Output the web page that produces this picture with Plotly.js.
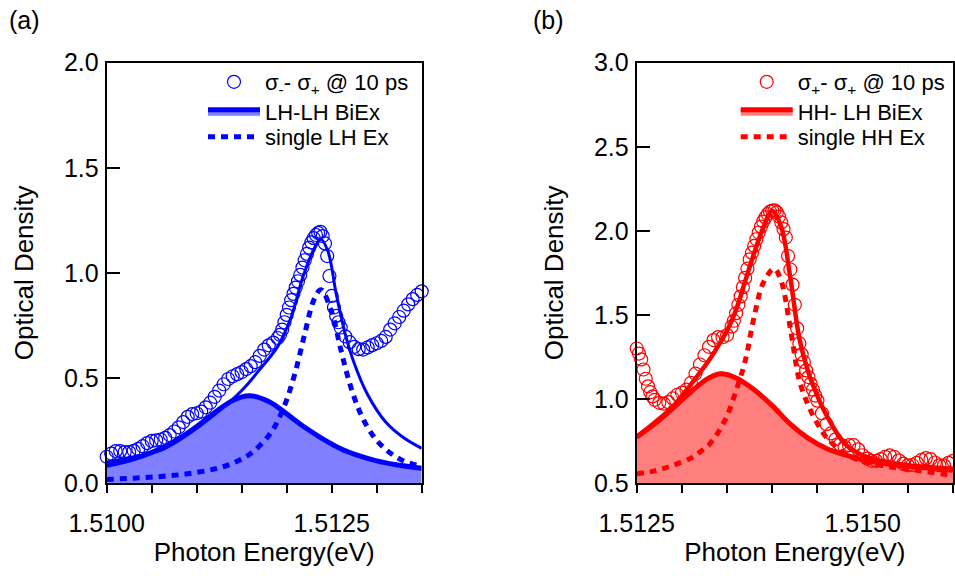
<!DOCTYPE html>
<html>
<head>
<meta charset="utf-8">
<script src="https://cdn.plot.ly/plotly-3.0.1.min.js"></script>
<style>
  html, body { margin: 0; padding: 0; background: #fff; }
  #chart { width: 955px; height: 576px; }
</style>
</head>
<body>
<div id="chart"></div>
<script>
// ---------- Panel (a): sigma- / sigma+ pump-probe at 10 ps, LH region ----------
const energyA = [
  1.51000, 1.51005, 1.51010, 1.51015, 1.51020, 1.51025, 1.51030, 1.51035, 1.51040, 1.51045,
  1.51050, 1.51055, 1.51060, 1.51065, 1.51070, 1.51075, 1.51080, 1.51085, 1.51090, 1.51095,
  1.51100, 1.51105, 1.51110, 1.51115, 1.51120, 1.51125, 1.51130, 1.51135, 1.51140, 1.51145,
  1.51150, 1.51155, 1.51160, 1.51165, 1.51170, 1.51175, 1.51180, 1.51185, 1.51190,
  1.511925, 1.51195, 1.511975, 1.51200, 1.512025, 1.51205, 1.512075, 1.51210, 1.512125, 1.51215,
  1.512175, 1.51220, 1.512225, 1.51225, 1.512275, 1.51230, 1.512325, 1.51235, 1.512375, 1.51240,
  1.512425, 1.51245, 1.512475, 1.51250, 1.512525, 1.51255, 1.512575, 1.51260,
  1.51265, 1.51270, 1.51275, 1.51280, 1.51285, 1.51290, 1.51295, 1.51300, 1.51305, 1.51310,
  1.51315, 1.51320, 1.51325, 1.51330, 1.51335, 1.51340, 1.51345, 1.51350
];
const odA = [
  0.125, 0.140, 0.152, 0.152, 0.147, 0.147, 0.153, 0.162, 0.175, 0.190,
  0.200, 0.203, 0.207, 0.215, 0.228, 0.245, 0.265, 0.290, 0.315, 0.328,
  0.332, 0.340, 0.360, 0.382, 0.410, 0.440, 0.470, 0.495, 0.508, 0.518,
  0.528, 0.542, 0.556, 0.575, 0.605, 0.635, 0.655, 0.668, 0.690,
  0.705, 0.730, 0.765, 0.800, 0.835, 0.870, 0.900, 0.930, 0.960, 0.990,
  1.025, 1.060, 1.090, 1.120, 1.145, 1.165, 1.180, 1.190, 1.195, 1.175,
  1.140, 1.080, 0.985, 0.890, 0.835, 0.795, 0.765, 0.740,
  0.698, 0.670, 0.648, 0.637, 0.635, 0.645, 0.656, 0.665, 0.676, 0.695,
  0.730, 0.760, 0.790, 0.820, 0.850, 0.875, 0.895, 0.912
];

// total fit
const fitEnergyA = [1.5100, 1.5103, 1.5106, 1.5109, 1.5112, 1.5115, 1.5117, 1.5119, 1.51205, 1.51218,
                    1.5123, 1.51238, 1.51246, 1.51255, 1.51265, 1.51275, 1.5129, 1.5131, 1.5133, 1.5135];
const fitA = [0.100, 0.125, 0.155, 0.230, 0.325, 0.440, 0.540, 0.650, 0.790, 0.980,
              1.110, 1.160, 1.100, 0.900, 0.710, 0.570, 0.420, 0.290, 0.215, 0.165];

// LH-LH biexciton component
const biexEnergyA = [1.5100, 1.5102, 1.5104, 1.5106, 1.5108, 1.5110, 1.5112, 1.5114, 1.51159,
                     1.5118, 1.5120, 1.5122, 1.5124, 1.5126, 1.5128, 1.5130, 1.5132, 1.5135];
const biexA = [0.084, 0.103, 0.129, 0.164, 0.210, 0.269, 0.335, 0.393, 0.415,
               0.388, 0.329, 0.265, 0.210, 0.163, 0.130, 0.105, 0.088, 0.070];

// single LH exciton component
const exEnergyA = [1.5100, 1.5103, 1.5106, 1.5109, 1.5112, 1.5114, 1.5116, 1.5118, 1.5119, 1.5120,
                   1.5121, 1.5122, 1.5123, 1.51238, 1.5125, 1.5126, 1.5127, 1.5128, 1.5129, 1.5130,
                   1.5131, 1.5132, 1.5133, 1.5135];
const exA = [0.017, 0.023, 0.031, 0.044, 0.067, 0.094, 0.140, 0.225, 0.295, 0.396,
             0.535, 0.709, 0.869, 0.920, 0.813, 0.637, 0.474, 0.351, 0.264, 0.203,
             0.160, 0.128, 0.105, 0.077];

// ---------- Panel (b): sigma+ / sigma+ pump-probe at 10 ps, HH region ----------
const energyB = [
  1.512500, 1.512525, 1.512550, 1.512575, 1.512600, 1.512625, 1.512650, 1.512675, 1.512700,
  1.51275, 1.51280, 1.51285, 1.51290, 1.51295, 1.51300, 1.51305, 1.51310, 1.51315, 1.51320,
  1.51325, 1.51330, 1.51335, 1.51340, 1.51345, 1.51350, 1.51355,
  1.513575, 1.51360, 1.513625, 1.51365, 1.513675, 1.51370, 1.513725, 1.51375, 1.513775, 1.51380,
  1.513825, 1.51385, 1.513875, 1.51390, 1.513925, 1.51395, 1.513975, 1.51400, 1.514025, 1.51405,
  1.514075, 1.51410, 1.514125, 1.51415, 1.514175, 1.51420, 1.514225, 1.51425, 1.514275, 1.51430,
  1.514325, 1.51435, 1.514375, 1.51440, 1.514425, 1.51445, 1.514475, 1.51450,
  1.51455, 1.51460, 1.51465, 1.51470, 1.51475, 1.51480, 1.51485, 1.51490, 1.51495, 1.51500,
  1.51505, 1.51510, 1.51515, 1.51520, 1.51525, 1.51530, 1.51535, 1.51540, 1.51545, 1.51550,
  1.51555, 1.51560, 1.51565, 1.51570, 1.51575, 1.51580, 1.51585, 1.51590, 1.51595, 1.51600
];
const odB = [
  1.300, 1.270, 1.235, 1.175, 1.120, 1.075, 1.040, 1.015, 0.995,
  0.977, 0.972, 0.981, 1.003, 1.025, 1.037, 1.055, 1.095, 1.150, 1.205,
  1.260, 1.310, 1.350, 1.368, 1.367, 1.380, 1.430,
  1.465, 1.510, 1.560, 1.610, 1.665, 1.720, 1.775, 1.830, 1.870, 1.910,
  1.950, 1.990, 2.025, 2.055, 2.080, 2.100, 2.115, 2.120, 2.122, 2.110,
  2.085, 2.050, 2.010, 1.960, 1.850, 1.770, 1.680, 1.560, 1.420, 1.330,
  1.265, 1.220, 1.170, 1.130, 1.090, 1.055, 1.020, 0.990,
  0.915, 0.850, 0.795, 0.760, 0.730, 0.715, 0.725, 0.725, 0.700, 0.665,
  0.645, 0.632, 0.632, 0.642, 0.655, 0.664, 0.655, 0.635, 0.615, 0.605,
  0.607, 0.620, 0.637, 0.648, 0.642, 0.622, 0.605, 0.605, 0.620, 0.632
];

// total fit
const fitEnergyB = [1.5125, 1.5127, 1.5129, 1.5131, 1.5133, 1.5134, 1.5135, 1.5136, 1.5137, 1.5138,
                    1.5139, 1.5140, 1.5141, 1.5142, 1.5143, 1.5144, 1.5145, 1.5146, 1.5148, 1.5150,
                    1.5152, 1.5155, 1.5160];
const fitB = [0.775, 0.860, 0.955, 1.087, 1.230, 1.314, 1.407, 1.530, 1.700, 1.868,
              2.017, 2.120, 2.023, 1.720, 1.360, 1.157, 1.017, 0.904, 0.735, 0.665,
              0.632, 0.605, 0.585];

// HH-LH biexciton component
const biexEnergyB = [1.5125, 1.5127, 1.5129, 1.5131, 1.5133, 1.51343, 1.5136, 1.5138, 1.5140,
                     1.5142, 1.5144, 1.5146, 1.5148, 1.5150, 1.5153, 1.5156, 1.5160];
const biexB = [0.773, 0.852, 0.944, 1.043, 1.125, 1.150, 1.125, 1.055, 0.960,
               0.850, 0.765, 0.705, 0.668, 0.638, 0.612, 0.595, 0.576];

// single HH exciton component
const exEnergyB = [1.5125, 1.5127, 1.5129, 1.5131, 1.5132, 1.5133, 1.5134, 1.5135, 1.5136, 1.5137,
                   1.5138, 1.5139, 1.51402, 1.5141, 1.5142, 1.5143, 1.5144, 1.5145, 1.5146, 1.5148,
                   1.5150, 1.5153, 1.5156, 1.5160];
const exB = [0.555, 0.572, 0.605, 0.648, 0.685, 0.728, 0.800, 0.900, 1.050, 1.225,
             1.490, 1.690, 1.775, 1.700, 1.420, 1.110, 0.960, 0.853, 0.772, 0.675,
             0.630, 0.596, 0.575, 0.545];

// legend labels
const labelsA = ['σ<sub>-</sub>- σ<sub>+</sub> @ 10 ps', 'LH-LH BiEx', 'single LH Ex'];
const labelsB = ['σ<sub>+</sub>- σ<sub>+</sub> @ 10 ps', 'HH- LH BiEx', 'single HH Ex'];

// ---------- styling ----------
const FONT = 'Liberation Sans, Arial, Helvetica, sans-serif';
const BLUE = '#0000ff', BLUE_FILL = 'rgba(0,0,255,0.5)';
const RED = '#ff0000', RED_FILL = 'rgba(255,0,0,0.5)';
const DASH = '7px,6px';

// each legend row gets its own legend box so rows can be spaced freely
function panelTraces(ax, legendIds, color, fill, labels, fitWidth, d) {
  const xa = ax === 1 ? 'x' : 'x2';
  const ya = ax === 1 ? 'y' : 'y2';
  return [
    { // biexciton component, shaded
      x: d.biexE, y: d.biex, xaxis: xa, yaxis: ya, type: 'scatter', mode: 'lines',
      line: { color: color, width: 5, shape: 'spline', smoothing: 1 },
      fill: 'tozeroy', fillcolor: fill,
      name: labels[1], legend: legendIds[1]
    },
    { // total fit
      x: d.fitE, y: d.fit, xaxis: xa, yaxis: ya, type: 'scatter', mode: 'lines',
      line: { color: color, width: fitWidth, shape: 'spline', smoothing: 1 },
      showlegend: false, name: 'fit'
    },
    { // single exciton component
      x: d.exE, y: d.ex, xaxis: xa, yaxis: ya, type: 'scatter', mode: 'lines',
      line: { color: color, width: 5, dash: DASH, shape: 'spline', smoothing: 1 },
      name: labels[2], legend: legendIds[2]
    },
    { // measured spectrum
      x: d.dataE, y: d.data, xaxis: xa, yaxis: ya, type: 'scatter', mode: 'markers',
      marker: { symbol: 'circle-open', size: 13, color: color, line: { width: 1.2, color: color } },
      cliponaxis: false,
      name: labels[0], legend: legendIds[0]
    }
  ];
}

const traces = [].concat(
  panelTraces(1, ['legend', 'legend2', 'legend3'], BLUE, BLUE_FILL, labelsA, 3,
    { biexE: biexEnergyA, biex: biexA, fitE: fitEnergyA, fit: fitA,
      exE: exEnergyA, ex: exA, dataE: energyA, data: odA }),
  panelTraces(2, ['legend4', 'legend5', 'legend6'], RED, RED_FILL, labelsB, 4.5,
    { biexE: biexEnergyB, biex: biexB, fitE: fitEnergyB, fit: fitB,
      exE: exEnergyB, ex: exB, dataE: energyB, data: odB })
);

const W = 955, H = 576;
const yDomain = [1 - 483 / H, 1 - 62.7 / H];

function xAxis(range, domain, anchor) {
  return {
    domain: domain, anchor: anchor, range: range,
    tickmode: 'linear', tick0: range[0], dtick: 0.0025, tickformat: '.4f',
    ticks: 'outside', ticklen: 8, tickwidth: 2, tickcolor: '#000',
    minor: { tickmode: 'linear', tick0: range[0], dtick: 0.0005, ticks: 'outside',
             ticklen: 8, tickwidth: 2, tickcolor: '#000', showgrid: false },
    ticklabelstandoff: 9,
    tickfont: { family: FONT, size: 25, color: '#000' },
    showline: true, linecolor: '#000', linewidth: 2, mirror: true,
    showgrid: false, zeroline: false, fixedrange: true,
    title: { text: 'Photon Energy(eV)', font: { family: FONT, size: 26, color: '#000' }, standoff: 5 }
  };
}
function yAxis(range, anchor) {
  return {
    domain: yDomain, anchor: anchor, range: range,
    tickmode: 'linear', tick0: 0, dtick: 0.5, tickformat: '.1f',
    ticks: 'inside', ticklen: 13, tickwidth: 2, tickcolor: '#000',
    ticklabelstandoff: 1,
    tickfont: { family: FONT, size: 25, color: '#000' },
    showline: true, linecolor: '#000', linewidth: 2, mirror: true,
    showgrid: false, zeroline: false, fixedrange: true,
    title: { text: 'Optical Density', font: { family: FONT, size: 26, color: '#000' }, standoff: 23 }
  };
}

function legendRow(left, centerY) {
  return {
    x: left / W, y: 1 - centerY / H, xanchor: 'left', yanchor: 'middle',
    xref: 'paper', yref: 'paper',
    bgcolor: 'rgba(0,0,0,0)', borderwidth: 0, itemwidth: 52,
    font: { family: FONT, size: 22, color: '#000' }
  };
}

const rowY = [82, 112, 137];

const layout = {
  width: W, height: H,
  margin: { l: 0, r: 0, t: 0, b: 0 },
  paper_bgcolor: '#fff', plot_bgcolor: '#fff',
  font: { family: FONT, color: '#000' },
  showlegend: true,
  xaxis: xAxis([1.5100, 1.5135], [106.7 / W, 421.7 / W], 'y'),
  yaxis: yAxis([0, 2.0], 'x'),
  xaxis2: xAxis([1.5125, 1.5160], [636.7 / W, 953 / W], 'y2'),
  yaxis2: yAxis([0.5, 3.0], 'x2'),
  legend: legendRow(203, rowY[0]),
  legend2: legendRow(203, rowY[1]),
  legend3: legendRow(203, rowY[2]),
  legend4: legendRow(735.7, rowY[0]),
  legend5: legendRow(735.7, rowY[1]),
  legend6: legendRow(735.7, rowY[2]),
  annotations: [
    { text: '(a)', xref: 'paper', yref: 'paper', x: 7 / W, y: 1 - 20 / H,
      xanchor: 'left', yanchor: 'middle', showarrow: false,
      font: { family: FONT, size: 25, color: '#000' } },
    { text: '(b)', xref: 'paper', yref: 'paper', x: 531 / W, y: 1 - 20 / H,
      xanchor: 'left', yanchor: 'middle', showarrow: false,
      font: { family: FONT, size: 25, color: '#000' } }
  ]
};

Plotly.newPlot('chart', traces, layout, { displayModeBar: false, staticPlot: true });
</script>
</body>
</html>
